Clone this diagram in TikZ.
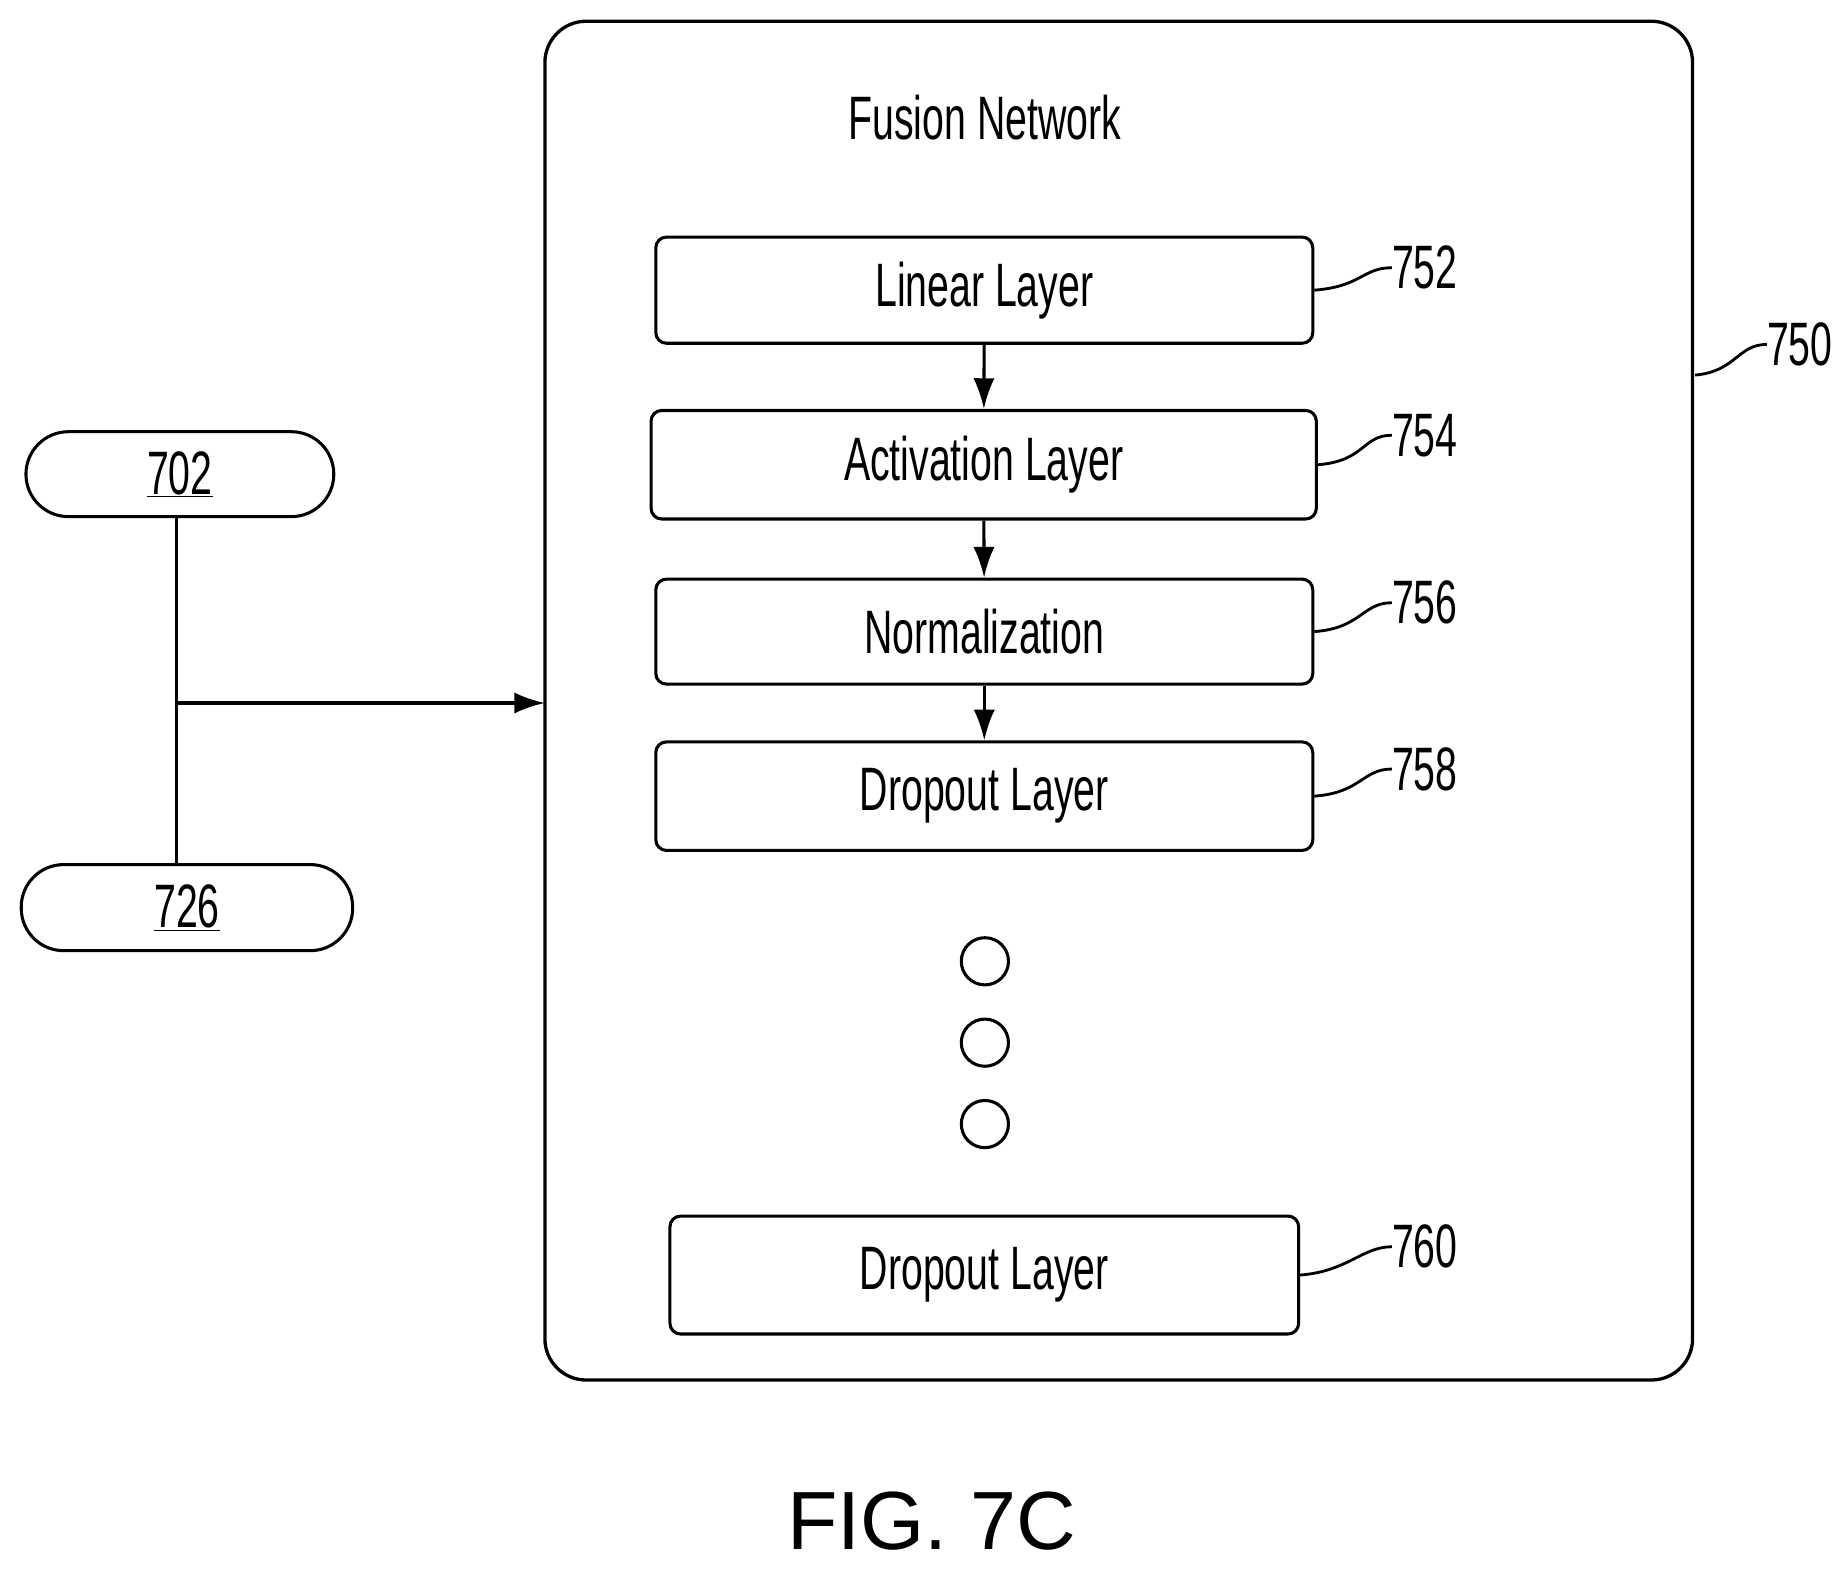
\documentclass[tikz,border=0pt]{standalone}
\usepackage{fontspec}
\usetikzlibrary{arrows.meta}
\setmainfont{Liberation Sans}
\newfontfamily\narrowf[FakeStretch=0.64]{Liberation Sans}
\begin{document}
\begin{tikzpicture}[x=1pt,y=-1pt,
  lay/.style={draw,line width=2.6pt,rounded corners=9pt,inner sep=0pt,font=\narrowf\fontsize{52}{52}\selectfont},
  pill/.style={draw,line width=2.6pt,rounded corners=36pt,inner sep=0pt,font=\narrowf\fontsize{52}{52}\selectfont},
  lbl/.style={font=\narrowf\fontsize{52}{52}\selectfont,anchor=west,inner sep=0pt},
  lead/.style={line width=2.4pt},
  arr/.style={line width=2.6pt,-{Latex[length=26pt,width=18pt]}}]
\useasboundingbox (0,0) rectangle (1560,1333);
\draw[line width=2.8pt,rounded corners=35pt] (462,18) rectangle (1435,1170);
\coordinate (outer) at (1437,318);
\node[font=\narrowf\fontsize{52}{52}\selectfont] (title) at (835,100) {Fusion Network};
\node[lay,minimum width=557pt,minimum height=90pt] (b1) at (834.5,246) {Linear Layer};
\node[lay,minimum width=564pt,minimum height=92pt] (b2) at (834,394) {Activation Layer};
\node[lay,minimum width=557pt,minimum height=89pt] (b3) at (834.5,535.5) {Normalization};
\node[lay,minimum width=557pt,minimum height=92pt] (b4) at (834.5,675) {Dropout Layer};
\node[lay,minimum width=533pt,minimum height=100pt] (b5) at (834.5,1081) {Dropout Layer};
\foreach \y/\n in {815/c1,884/c2,953/c3} \node[draw,circle,line width=2.6pt,minimum size=40pt,inner sep=0pt] (\n) at (835,\y) {};
\draw[arr] (b1) -- (b2);
\draw[arr] (b2) -- (b3);
\draw[arr] (b3) -- (b4);
\node[lbl] (l752) at (1180,227) {752};
\node[lbl] (l754) at (1180,369) {754};
\node[lbl] (l756) at (1180,511) {756};
\node[lbl] (l758) at (1180,652) {758};
\node[lbl] (l760) at (1180,1057) {760};
\node[lbl] (l750) at (1498,292) {750};
\foreach \b/\l in {b1/l752,b2/l754,b3/l756,b4/l758,b5/l760}
  \draw[lead] (\b.east) .. controls +(40,-3) and +(-25,0) .. (\l.west);
\draw[lead] (outer) .. controls +(35,-3) and +(-25,0) .. (l750.west);
\node[pill,minimum width=261pt,minimum height=72pt] (p1) at (152.5,402) {\underline{702}};
\node[pill,minimum width=281pt,minimum height=73pt] (p2) at (158.5,769.5) {\underline{726}};
\coordinate (j) at (150,596);
\coordinate (t) at (462,596);
\draw[line width=2.6pt] (p1.south -| j) -- (p2.north -| j);
\draw[arr] (j) -- (t);
\node[font=\fontsize{70}{70}\selectfont] (fig) at (790,1290) {FIG. 7C};
\end{tikzpicture}
\end{document}
